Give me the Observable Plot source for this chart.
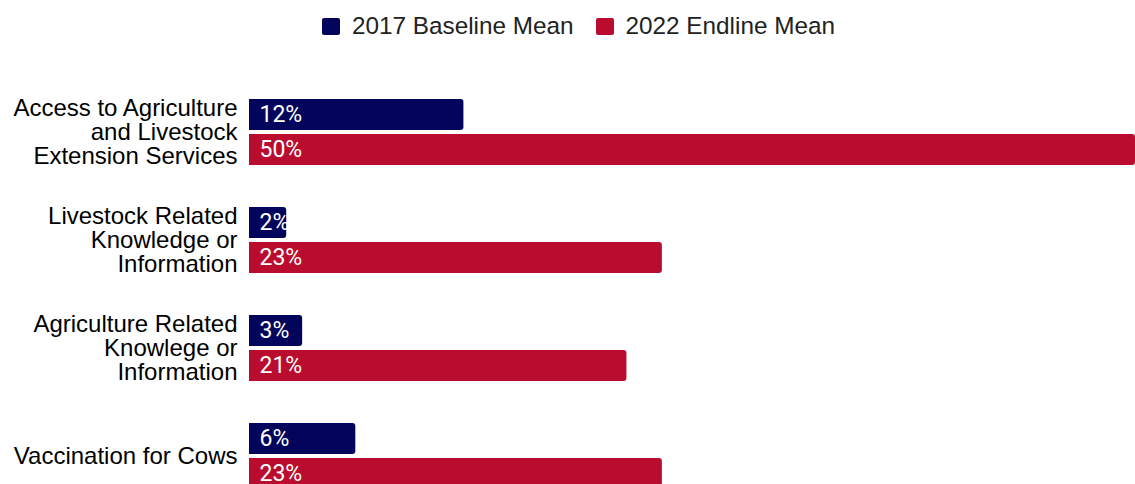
<!DOCTYPE html>
<html>
<head>
<meta charset="utf-8">
<script src="https://cdn.jsdelivr.net/npm/d3@7"></script>
<script src="https://cdn.jsdelivr.net/npm/@observablehq/plot@0.6"></script>
<style>
  html, body { margin: 0; padding: 0; background: #fff; overflow: hidden; }
  #legend { height: 50px; box-sizing: border-box; padding-top: 2px; padding-left: 22px; display: flex; justify-content: center; align-items: center; gap: 22px;
    font-family: "Liberation Sans", Arial, sans-serif; font-size: 24.3px; color: #222; }
  .item { display: flex; align-items: center; gap: 12px; }
  .sw { width: 18px; height: 17px; border-radius: 2px; display: inline-block; }
  #chart svg { display: block; }
</style>
</head>
<body>
<div id="legend"></div>
<div id="chart"></div>
<script>
const categories = [
  "Access to Agriculture\nand Livestock\nExtension Services",
  "Livestock Related\nKnowledge or\nInformation",
  "Agriculture Related\nKnowlege or\nInformation",
  "Vaccination for Cows"
];
const series = ["2017 Baseline Mean", "2022 Endline Mean"];
const baseline = [12.1, 2.1, 3.0, 6.0];
const endline = [50, 23.3, 21.3, 23.3];
const colors = ["#03055c", "#ba0c2f"];

const rows = [];
categories.forEach((c, i) => {
  rows.push({category: c, series: series[0], value: baseline[i]});
  rows.push({category: c, series: series[1], value: endline[i]});
});

const legend = document.getElementById("legend");
series.forEach((s, i) => {
  const item = document.createElement("div");
  item.className = "item";
  const sw = document.createElement("span");
  sw.className = "sw";
  sw.style.background = colors[i];
  const t = document.createElement("span");
  t.textContent = s;
  item.appendChild(sw); item.appendChild(t);
  legend.appendChild(item);
});

const chart = Plot.plot({
  width: 1135,
  height: 481,
  marginLeft: 249,
  marginRight: 0,
  marginTop: 7,
  marginBottom: 0,
  style: {fontFamily: "'Liberation Sans', Arial, sans-serif", fontSize: "24px", color: "#000", background: "#fff"},
  x: {domain: [0, 50], axis: null},
  fy: {domain: categories, axis: null, paddingInner: 0.3889, paddingOuter: 0.3889, round: false},
  y: {domain: series, axis: null, paddingInner: 0.12, paddingOuter: 0, round: false},
  color: {domain: series, range: colors},
  marks: [
    Plot.barX(rows, {x: "value", y: "series", fy: "category", fill: "series", rx: 3, insetLeft: -5, clip: true}),
    Plot.text(rows, {y: "series", fy: "category", frameAnchor: "left", textAnchor: "start", dx: 10,
      text: d => Math.round(d.value) + "%", fill: "white", fontSize: 23, fontFamily: "Roboto"}),
    Plot.text(categories, {fy: d => d, text: d => d, frameAnchor: "left", textAnchor: "end", dx: -12,
      fontSize: 24, lineHeight: 1.0, fill: "#000"})
  ]
});
document.getElementById("chart").appendChild(chart);
</script>
</body>
</html>
